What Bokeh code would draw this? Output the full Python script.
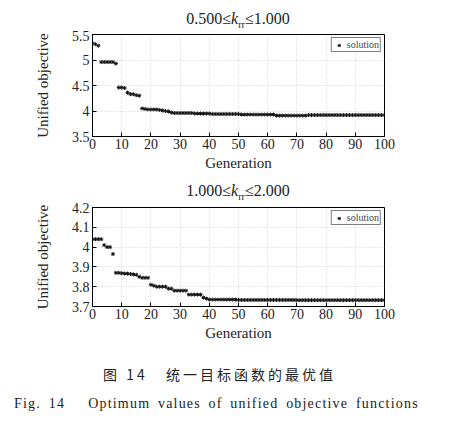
from bokeh.plotting import figure
from bokeh.models import Range1d, FixedTicker, CustomJSTickFormatter, Div, Legend, LegendItem
from bokeh.layouts import column
from bokeh.embed import file_html
from bokeh.resources import INLINE

generations = list(range(0, 101))

# Top panel: 0.500 <= k_rr <= 1.000
obj_top = ([5.33, 5.31, 5.28]
           + [4.96, 4.96, 4.96, 4.96, 4.96, 4.93]
           + [4.46, 4.46, 4.45]
           + [4.36, 4.33, 4.33, 4.31, 4.30]
           + [4.05, 4.04, 4.03, 4.03, 4.03, 4.03, 4.02]
           + [4.01, 4.00, 3.99, 3.97]
           + [3.96] * 7 + [3.95] * 6
           + [3.94] * 10
           + [3.93] * 12
           + [3.91] * 11
           + [3.92] * 27)

# Bottom panel: 1.000 <= k_rr <= 2.000
obj_bot = ([4.04, 4.04, 4.04, 4.04]
           + [4.01, 4.00, 4.00]
           + [3.965]
           + [3.87, 3.87, 3.868, 3.866, 3.866, 3.864, 3.862, 3.86, 3.85]
           + [3.845, 3.845, 3.845]
           + [3.81, 3.805, 3.80, 3.80, 3.80, 3.80]
           + [3.79, 3.79]
           + [3.78, 3.78, 3.78, 3.78, 3.78]
           + [3.76, 3.76, 3.76, 3.76, 3.76]
           + [3.745, 3.74]
           + [3.735] * 10 + [3.733] * 20 + [3.732] * 31)

top_yticks = [3.5, 4.0, 4.5, 5.0, 5.5]
bot_yticks = [3.7, 3.8, 3.9, 4.0, 4.1, 4.2]
xticks = list(range(0, 101, 10))

SERIF = "Liberation Serif"


def make_fig(ys, yr, yticks, height, border_top, border_bottom):
    p = figure(width=441, height=height, output_backend="svg", toolbar_location=None,
               x_range=Range1d(0, 100), y_range=Range1d(*yr),
               min_border_left=84, min_border_right=65, min_border_top=border_top,
               min_border_bottom=border_bottom)
    r = p.scatter(generations, ys, marker="asterisk", size=4, line_color="#111111",
                  line_width=1)
    p.xaxis.ticker = FixedTicker(ticks=xticks)
    p.yaxis.ticker = FixedTicker(ticks=yticks)
    p.yaxis.formatter = CustomJSTickFormatter(code="return String(Math.round(tick*10)/10)")
    for ax in (p.xaxis, p.yaxis):
        ax.major_label_text_font = SERIF
        ax.major_label_text_font_size = "14px"
        ax.major_label_text_color = "#222222"
        ax.axis_label_text_font = SERIF
        ax.axis_label_text_font_size = "15px"
        ax.axis_label_text_font_style = "normal"
        ax.axis_label_text_color = "#222222"
        ax.major_tick_in = 4
        ax.major_tick_out = 0
        ax.minor_tick_in = 0
        ax.minor_tick_out = 0
        ax.axis_line_color = "black"
        ax.major_tick_line_color = "black"
    p.xaxis.major_label_standoff = 2
    p.yaxis.major_label_standoff = 3
    p.yaxis.axis_label = "Unified objective"
    p.yaxis.axis_label_standoff = 18
    p.xaxis.axis_label = "Generation"
    p.xaxis.axis_label_standoff = 3
    p.outline_line_color = "black"
    p.outline_line_alpha = 1
    p.grid.grid_line_color = "#c8c8c8"
    p.grid.grid_line_dash = "1 2"
    p.grid.grid_line_alpha = 0.8
    legend = Legend(items=[LegendItem(label="solution", renderers=[r])],
                    location="top_right", border_line_color="black",
                    label_text_font=SERIF, label_text_font_size="10px",
                    label_height=8, glyph_height=8, glyph_width=12,
                    padding=1, spacing=0, margin=3, label_standoff=2,
                    background_fill_alpha=1)
    p.add_layout(legend)
    return p


def title_div(txt):
    return Div(text=txt, width=292, height=22, margin=(0, 0, 0, 84),
               styles={"text-align": "center", "font-family": SERIF,
                       "font-size": "16px", "color": "#222222", "line-height": "22px"})


t1 = title_div("0.500≤<i>k</i><sub style='font-size:10px'>rr</sub>≤1.000")
p1 = make_fig(obj_top, (3.5, 5.5), top_yticks, 150, 4, 44)
t2 = title_div("1.000≤<i>k</i><sub style='font-size:10px'>rr</sub>≤2.000")
p2 = make_fig(obj_bot, (3.7, 4.2), bot_yticks, 146, 5, 42)

caption = Div(
    text=("<div style='font-family:\"Noto Sans CJK SC\";font-size:14px;letter-spacing:3px;"
          "margin-top:16px;padding-left:95px;white-space:nowrap'>图 14&nbsp;&nbsp;&nbsp;统一目标函数的最优值</div>"
          "<div style='font-family:\"Liberation Serif\";font-size:14px;letter-spacing:1.2px;"
          "word-spacing:3px;margin-top:10px;margin-left:6px;white-space:nowrap'>Fig. 14&nbsp;&nbsp;&nbsp;Optimum values of unified objective functions</div>"),
    width=441, height=62, margin=(0, 0, 0, 0), styles={"color": "#222222"})

layout = column(t1, p1, t2, p2, caption, spacing=0, margin=(8, 8, 0, 8))
open("out.html", "w").write(file_html(layout, INLINE))
